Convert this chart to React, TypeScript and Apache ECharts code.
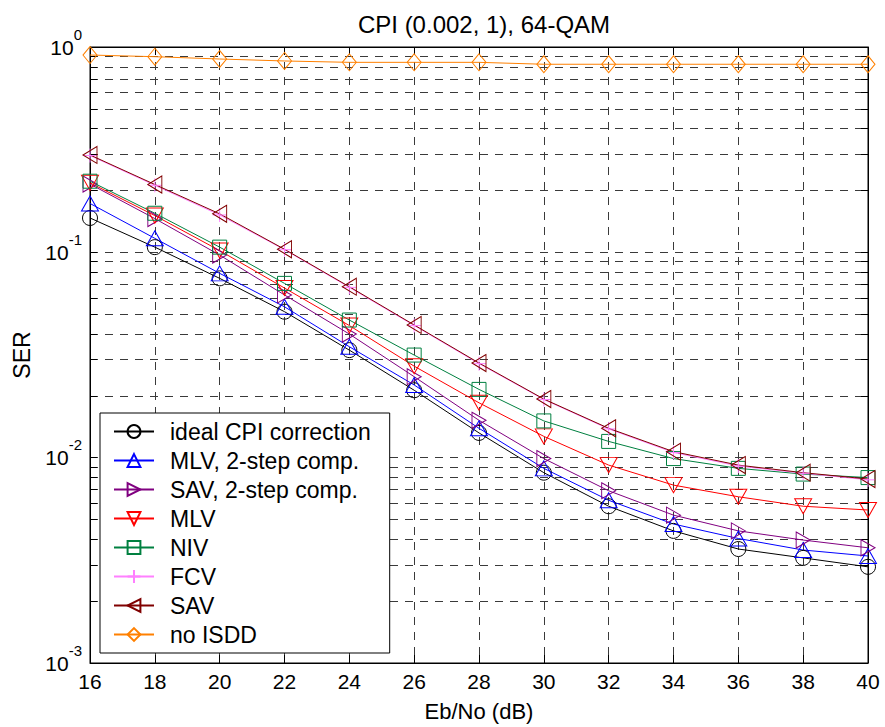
import React, { useEffect, useRef } from "react";
import * as echarts from "echarts";

const ebno = [16, 18, 20, 22, 24, 26, 28, 30, 32, 34, 36, 38, 40];
const xTicks = [16, 18, 20, 22, 24, 26, 28, 30, 32, 34, 36, 38, 40];
const yMajor = [0.001, 0.01, 0.1, 1];
const yAllTicks = [
  0.001, 0.002, 0.003, 0.004, 0.005, 0.006, 0.007, 0.008, 0.009,
  0.01, 0.02, 0.03, 0.04, 0.05, 0.06, 0.07, 0.08, 0.09,
  0.1, 0.2, 0.3, 0.4, 0.5, 0.6, 0.7, 0.8, 0.9, 1,
];

const idealCPI = [0.147, 0.106, 0.0747, 0.0514, 0.0334, 0.0213, 0.0132, 0.00845, 0.0058, 0.0044, 0.00359, 0.00325, 0.00294];
const mlv2 = [0.173, 0.117, 0.079, 0.0543, 0.0347, 0.0226, 0.0139, 0.00887, 0.0062, 0.00475, 0.00404, 0.00355, 0.00332];
const sav2 = [0.215, 0.146, 0.097, 0.062, 0.04, 0.0248, 0.0152, 0.0099, 0.0069, 0.00525, 0.0044, 0.00397, 0.00364];
const mlv = [0.218, 0.151, 0.102, 0.067, 0.044, 0.0279, 0.0185, 0.0127, 0.0092, 0.00735, 0.00645, 0.0058, 0.00556];
const niv = [0.222, 0.155, 0.106, 0.0706, 0.0468, 0.0316, 0.0215, 0.0151, 0.012, 0.0099, 0.00887, 0.00832, 0.008];
const fcv = [0.296, 0.212, 0.152, 0.103, 0.0675, 0.044, 0.0287, 0.0192, 0.0138, 0.0106, 0.0091, 0.0084, 0.0078];
const sav = [0.298, 0.214, 0.154, 0.1035, 0.068, 0.0443, 0.0289, 0.0193, 0.0139, 0.0107, 0.0092, 0.00845, 0.00787];
const noISDD = [0.914, 0.897, 0.874, 0.855, 0.842, 0.842, 0.842, 0.824, 0.824, 0.824, 0.824, 0.824, 0.824];

const FONT = "'Liberation Sans', Arial, Helvetica, sans-serif";

const seriesDefs = [
  { name: "ideal CPI correction", data: idealCPI, color: "#000000", symbol: "circle", size: 15 },
  { name: "MLV, 2-step comp.", data: mlv2, color: "#0000ff", symbol: "triangle", size: [17, 15] },
  { name: "SAV, 2-step comp.", data: sav2, color: "#800080", symbol: "path://M0,0 L10,5 L0,10 Z", size: [14, 16] },
  { name: "MLV", data: mlv, color: "#ff0000", symbol: "path://M0,0 L10,0 L5,10 Z", size: [17, 15] },
  { name: "NIV", data: niv, color: "#008040", symbol: "rect", size: 14 },
  { name: "FCV", data: fcv, color: "#ff80ff", symbol: "path://M5,0 L5,10 M0,5 L10,5", size: 14 },
  { name: "SAV", data: sav, color: "#800000", symbol: "path://M10,0 L0,5 L10,10 Z", size: [14, 17] },
  { name: "no ISDD", data: noISDD, color: "#ff8000", symbol: "diamond", size: [14, 17] },
];

export default function App() {
  const ref = useRef<HTMLDivElement>(null);
  useEffect(() => {
    if (!ref.current) return;
    const chart = echarts.init(ref.current, undefined, { renderer: "svg" });
    const gridDash = { color: "#3a3a3a", width: 1, type: [8, 7] as any };
    const option: any = {
      animation: false,
      backgroundColor: "#ffffff",
      title: {
        text: "CPI (0.002, 1), 64-QAM",
        left: 479,
        textAlign: "center",
        top: 7,
        textStyle: { fontFamily: FONT, fontSize: 24, fontWeight: "normal", color: "#000" },
      },
      grid: { left: 90, right: 17, top: 47, bottom: 64, show: true, borderColor: "#000", borderWidth: 1, backgroundColor: "#fff" },
      legend: {
        orient: "vertical",
        left: 100,
        top: 413,
        padding: [7, 19, 7, 13],
        itemWidth: 40,
        itemHeight: 16,
        itemGap: 6,
        z: 10,
        backgroundColor: "#ffffff",
        borderColor: "#000000",
        borderWidth: 1,
        textStyle: { fontFamily: FONT, fontSize: 23, lineHeight: 20, color: "#000", padding: [0, 0, 0, 11] },
        data: seriesDefs.map((s) => s.name),
      },
      xAxis: [
        {
          type: "value",
          min: 16,
          max: 40,
          interval: 2,
          name: "Eb/No (dB)",
          nameLocation: "middle",
          nameGap: 37,
          nameTextStyle: { fontFamily: FONT, fontSize: 22, color: "#000" },
          axisLine: { show: true, onZero: false, lineStyle: { color: "#000" } },
          axisTick: { show: true, inside: true, length: 8, lineStyle: { color: "#000" }, customValues: xTicks },
          axisLabel: { fontFamily: FONT, fontSize: 21, color: "#000", margin: 8, customValues: xTicks },
          splitLine: { show: true, lineStyle: gridDash },
        },
        {
          type: "value",
          position: "top",
          min: 16,
          max: 40,
          interval: 2,
          axisLine: { show: true, onZero: false, lineStyle: { color: "#000" } },
          axisTick: { show: true, inside: true, length: 8, lineStyle: { color: "#000" } },
          axisLabel: { show: false },
          splitLine: { show: false },
        },
      ],
      yAxis: [
        {
          type: "log",
          logBase: 10,
          min: 0.001,
          max: 1,
          name: "SER",
          nameLocation: "middle",
          nameGap: 57,
          nameTextStyle: { fontFamily: FONT, fontSize: 23, color: "#000" },
          axisLine: { show: true, onZero: false, lineStyle: { color: "#000" } },
          axisTick: { show: true, inside: true, length: 7, lineStyle: { color: "#000" }, customValues: yAllTicks },
          axisLabel: {
            customValues: yMajor,
            margin: 8,
            formatter: (v: number) => `{b|10}{s|${Math.round(Math.log10(v))}}`,
            rich: {
              b: { fontFamily: FONT, fontSize: 21, color: "#000" },
              s: { fontFamily: FONT, fontSize: 15, color: "#000", padding: [0, 0, 26, 0] },
            },
          },
          splitLine: { show: true, lineStyle: gridDash },
        },
        {
          type: "log",
          logBase: 10,
          min: 0.001,
          max: 1,
          position: "right",
          axisLine: { show: true, onZero: false, lineStyle: { color: "#000" } },
          axisTick: { show: true, inside: true, length: 7, lineStyle: { color: "#000" }, customValues: yAllTicks },
          axisLabel: { show: false },
          splitLine: { show: false },
        },
      ],
      series: seriesDefs.map((s) => ({
        type: "line",
        name: s.name,
        data: ebno.map((x, i) => [x, s.data[i]]),
        symbol: s.symbol,
        symbolSize: s.size,
        showAllSymbol: true,
        lineStyle: { color: s.color, width: 1 },
        itemStyle: { color: "rgba(255,255,255,0)", borderColor: s.color, borderWidth: 1 },
        emphasis: { disabled: true },
        z: 3,
      })),
    };
    chart.setOption(option);
    return () => chart.dispose();
  }, []);
  return (
    <div
      ref={ref}
      style={{ position: "fixed", left: 0, top: 0, width: 885, height: 727 }}
    />
  );
}
